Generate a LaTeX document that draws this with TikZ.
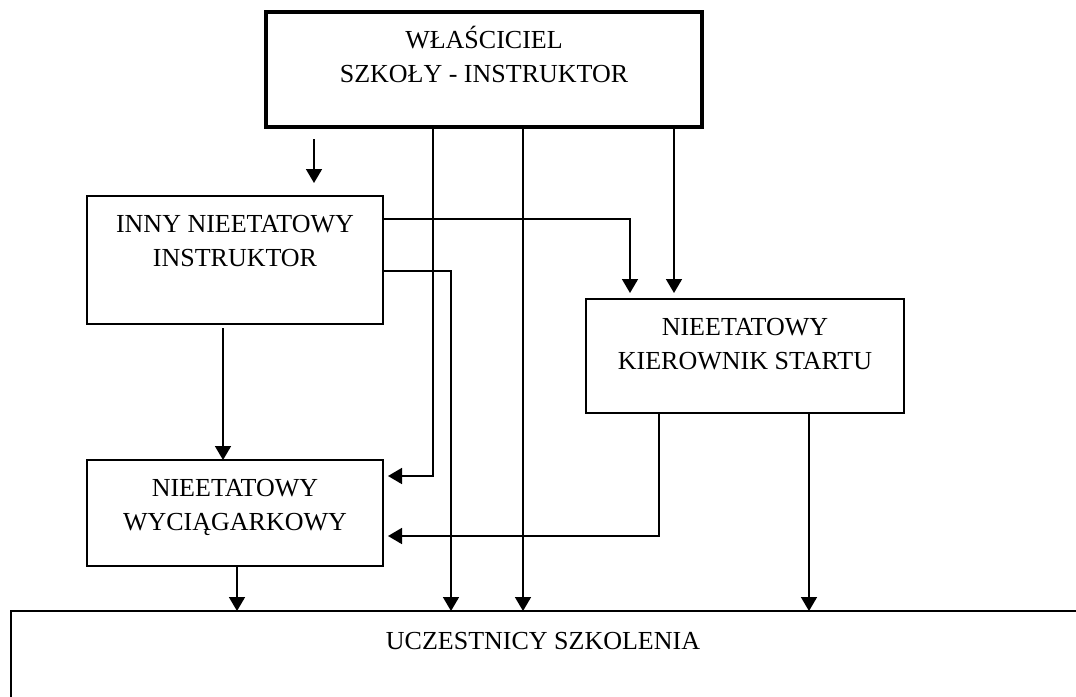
\documentclass[tikz,border=0pt]{standalone}
\usepackage{fontspec}
\setmainfont{Liberation Serif}
\usetikzlibrary{calc,arrows.meta}

\begin{document}
\begin{tikzpicture}[x=0.5pt, y=-0.5pt,
  box/.style={draw, line width=1.3pt, inner sep=0pt, outer sep=0pt},
  lbl/.style={anchor=north, inner sep=0pt, align=center, font=\fontsize{13}{16.8}\selectfont},
  arr/.style={line width=0.85pt, -{Triangle[length=7pt,width=8pt]}}]

  \useasboundingbox (0,0) rectangle (1076,696);

  % --- Boxes ---
  \node[box, line width=2pt, minimum width=218pt, minimum height=57.5pt] (own) at (484,69.5) {};
  \node[box, minimum width=148pt, minimum height=64pt] (inny) at (235,260) {};
  \node[box, minimum width=148pt, minimum height=53pt] (wyc) at (235,513) {};
  \node[box, minimum width=159pt, minimum height=57pt] (kier) at (745,356) {};
  \node[box, line width=1pt, minimum width=554.5pt, minimum height=60pt] (ucz) at (565.5,671) {};

  % --- Box labels ---
  \node[lbl] (ownt) at ([yshift=-5pt]own.north) {\rule{0pt}{13pt}WŁAŚCICIEL\\SZKOŁY - INSTRUKTOR};
  \node[lbl] (innyt) at ([yshift=-5pt]inny.north) {\rule{0pt}{13pt}INNY NIEETATOWY\\INSTRUKTOR};
  \node[lbl] (wyct) at ([yshift=-5pt]wyc.north) {\rule{0pt}{13pt}NIEETATOWY\\WYCIĄGARKOWY};
  \node[lbl] (kiert) at ([yshift=-5pt]kier.north) {\rule{0pt}{13pt}NIEETATOWY\\KIEROWNIK STARTU};
  \node[lbl] (uczt) at ([yshift=-6pt]ucz.north -| 543,0) {\rule{0pt}{13pt}UCZESTNICY SZKOLENIA};

  % --- Lanes of the connectors ---
  \coordinate (xown1) at (433,0);
  \coordinate (xown2) at (523,0);
  \coordinate (xown3) at (674,0);
  \coordinate (xinny1) at (630,0);
  \coordinate (xinny2) at (451,0);
  \coordinate (xinny3) at (223,0);
  \coordinate (xkier1) at (659,0);
  \coordinate (xkier2) at (809,0);
  \coordinate (xwyc) at (237,0);

  % --- Loose arrow above the instructor box ---
  \coordinate (free1) at (314,139);
  \coordinate (free2) at (314,183);
  \draw[arr] (free1) -- (free2);

  % --- From the owner ---
  \draw[arr, shorten >=2.5pt] (xown1 |- own.south) |- ([yshift=18.5pt]wyc.east);
  \draw[arr] (xown2 |- own.south) -- (xown2 |- ucz.north);
  \draw[arr, shorten >=3pt] (xown3 |- own.south) -- (xown3 |- kier.north);

  % --- From the other instructor ---
  \draw[arr, shorten >=3pt] ([yshift=20.5pt]inny.east) -| (xinny1 |- kier.north);
  \draw[arr] ([yshift=-5.5pt]inny.east) -| (xinny2 |- ucz.north);
  \draw[arr, shorten <=2pt] (xinny3 |- inny.south) -- (xinny3 |- wyc.north);

  % --- From the launch manager ---
  \draw[arr, shorten >=2.5pt] (xkier1 |- kier.south) |- ([yshift=-11.5pt]wyc.east);
  \draw[arr] (xkier2 |- kier.south) -- (xkier2 |- ucz.north);

  % --- From the winch operator ---
  \draw[arr] (xwyc |- wyc.south) -- (xwyc |- ucz.north);

\end{tikzpicture}
\end{document}
